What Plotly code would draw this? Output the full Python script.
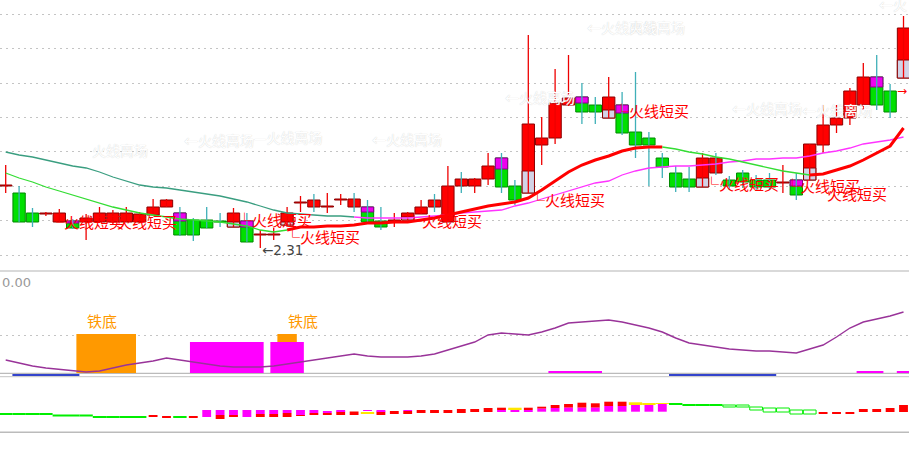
import plotly.graph_objects as go

W, H = 909, 449

# ---------------- price panel data ----------------
opens = [2.496, 2.475, 2.415, 2.412, 2.388, 2.391, 2.388, 2.388, 2.388, 2.388,
         2.388, 2.409, 2.433, 2.415, 2.394, 2.394, 2.391, 2.373, 2.391, 2.349,
         2.349, 2.379, 2.445, 2.433, 2.433, 2.454, 2.433, 2.433, 2.391, 2.391,
         2.394, 2.412, 2.433, 2.388, 2.496, 2.496, 2.517, 2.580, 2.496, 2.475,
         2.619, 2.640, 2.739, 2.763, 2.739, 2.700, 2.739, 2.658, 2.640, 2.580,
         2.535, 2.517, 2.493, 2.535, 2.514, 2.535, 2.514, 2.514, 2.505, 2.514,
         2.514, 2.619, 2.679, 2.700, 2.739, 2.823, 2.781, 2.820]
highs = [2.559, 2.496, 2.430, 2.418, 2.427, 2.397, 2.412, 2.433, 2.424, 2.433,
         2.418, 2.457, 2.457, 2.433, 2.400, 2.433, 2.415, 2.430, 2.415, 2.364,
         2.370, 2.433, 2.466, 2.472, 2.475, 2.472, 2.475, 2.454, 2.433, 2.415,
         2.418, 2.454, 2.472, 2.556, 2.538, 2.520, 2.595, 2.595, 2.514, 2.949,
         2.703, 2.847, 2.889, 2.805, 2.763, 2.823, 2.778, 2.838, 2.658, 2.595,
         2.556, 2.553, 2.595, 2.595, 2.526, 2.544, 2.529, 2.535, 2.559, 2.535,
         2.622, 2.739, 2.739, 2.790, 2.865, 2.889, 2.802, 3.006]
lows = [2.475, 2.388, 2.373, 2.406, 2.388, 2.367, 2.334, 2.388, 2.382, 2.388,
        2.385, 2.409, 2.433, 2.346, 2.331, 2.370, 2.373, 2.373, 2.328, 2.310,
        2.334, 2.373, 2.418, 2.418, 2.415, 2.439, 2.418, 2.388, 2.364, 2.373,
        2.394, 2.412, 2.418, 2.388, 2.475, 2.475, 2.499, 2.475, 2.439, 2.475,
        2.559, 2.622, 2.736, 2.682, 2.682, 2.700, 2.649, 2.580, 2.496, 2.520,
        2.478, 2.478, 2.493, 2.529, 2.484, 2.490, 2.484, 2.484, 2.475, 2.454,
        2.514, 2.595, 2.655, 2.679, 2.724, 2.724, 2.700, 2.820]
closes = [2.499, 2.388, 2.388, 2.415, 2.415, 2.370, 2.400, 2.415, 2.415, 2.415,
          2.412, 2.433, 2.454, 2.349, 2.349, 2.370, 2.388, 2.415, 2.328, 2.352,
          2.352, 2.415, 2.448, 2.454, 2.436, 2.457, 2.457, 2.388, 2.373, 2.394,
          2.415, 2.433, 2.454, 2.496, 2.517, 2.517, 2.556, 2.493, 2.454, 2.682,
          2.640, 2.745, 2.760, 2.718, 2.718, 2.763, 2.655, 2.619, 2.619, 2.553,
          2.493, 2.493, 2.580, 2.580, 2.496, 2.508, 2.493, 2.493, 2.508, 2.469,
          2.622, 2.679, 2.700, 2.781, 2.823, 2.739, 2.718, 2.970]

# lower light part of some red bodies
grey_idx = [17, 21, 30, 39, 45, 52, 60, 67]
grey_hi = [2.388, 2.388, 2.403, 2.541, 2.724, 2.520, 2.550, 2.874]
grey_lo = [2.373, 2.379, 2.394, 2.475, 2.700, 2.493, 2.514, 2.820]
# magenta caps on some green bodies
cap_idx = [5, 13, 18, 27, 37, 43, 46, 59, 65]
cap_hi = [2.391, 2.415, 2.391, 2.433, 2.580, 2.763, 2.739, 2.514, 2.823]
cap_lo = [2.385, 2.391, 2.373, 2.418, 2.547, 2.745, 2.715, 2.496, 2.793]
# red candles drawn with teal wicks
teal_wick_up = [23, 26, 32, 34, 53]

ma_long = [2.598, 2.589, 2.583, 2.574, 2.565, 2.556, 2.550, 2.538, 2.523, 2.511,
           2.499, 2.493, 2.490, 2.484, 2.478, 2.472, 2.466, 2.457, 2.448, 2.436,
           2.424, 2.415, 2.412, 2.409, 2.406, 2.406, 2.403, 2.400, 2.400, 2.400,
           2.400, 2.403, 2.406, 2.409, 2.415, 2.418, 2.421, 2.424, 2.436, 2.445,
           2.457, 2.469, 2.481, 2.493, 2.505, 2.511, 2.529, 2.541, 2.550, 2.553,
           2.556, 2.556, 2.559, 2.562, 2.568, 2.571, 2.577, 2.577, 2.580, 2.580,
           2.586, 2.595, 2.601, 2.610, 2.622, 2.628, 2.634, 2.643]
ma_mid = [2.535, 2.520, 2.508, 2.493, 2.481, 2.469, 2.457, 2.445, 2.433, 2.424,
          2.415, 2.409, 2.403, 2.397, 2.394, 2.391, 2.388, 2.382, 2.376, 2.364,
          2.358, 2.364, 2.373, 2.373, 2.376, 2.376, 2.379, 2.385, 2.385, 2.388,
          2.388, 2.394, 2.400, 2.409, 2.418, 2.427, 2.436, 2.442, 2.448, 2.460,
          2.484, 2.511, 2.538, 2.559, 2.574, 2.586, 2.601, 2.610, 2.613, 2.613,
          2.607, 2.598, 2.592, 2.583, 2.577, 2.568, 2.559, 2.550, 2.541, 2.535,
          2.529, 2.532, 2.544, 2.556, 2.574, 2.595, 2.616, 2.670]

# text signals on the price panel: (x index, price)
buy_x = [3.08, 7.04, 17.1, 20.7, 29.8, 38.98, 45.25, 51.96, 58.0]
buy_y = [2.391, 2.391, 2.397, 2.346, 2.394, 2.457, 2.724, 2.505, 2.499]
buy2_x = [61.14]
buy2_y = [2.475]
exit_x = [6.29, 13.16, 18.4, 27.19, 37.11, 43.25, 46.4, 54.05, 59.28]
exit_y = [2.604, 2.634, 2.643, 2.637, 2.763, 2.973, 2.973, 2.730, 2.724]
exit_txt = ["火线离场", "←火线离场", "—火线离场", "←火线离场", "←火线离场",
            "←火线离场", "火线离场", "←火线离场", "←火线离场"]
edge_txt = "←火"
edge_y = 3.042
low_label = "←2.31"
low_x, low_y = 18.98, 2.304
last_arrow_y = 2.781

# ---------------- middle panel data ----------------
osc = [13, 10, 7, 5, 3.5, 2.5, 1, 2, 5, 8, 10, 12, 15, 13, 11, 9, 7, 6, 6, 6,
       7, 9, 11, 13, 15, 17, 19, 17, 16, 16, 16, 17, 19, 23, 27, 31, 38, 40, 39, 38,
       41, 45, 50, 51, 52.5, 53, 51, 48, 45, 41, 35, 30, 28, 26, 24, 23, 22, 22, 21, 20,
       24, 28, 36, 45, 51, 54, 57, 61]
mag_start = [14, 20]
mag_end = [19, 22]
mag_val = [31, 31]
tie_start = [6, 21]
tie_end = [9, 21]
tie_lo = [0, 31]
tie_hi = [39, 39]
blue_start = [1, 50]
blue_end = [5, 57]
pink_start = [41, 64, 67]
pink_end = [44, 65, 67]

# ---------------- bottom panel data ----------------
gs_idx = [0, 1, 2, 3, 4, 5, 6, 7, 8, 9, 10, 13, 50, 51, 52, 53]
gs_lo = [17, 17, 17, 17, 15.5, 15.5, 15.5, 14, 14, 14, 14, 14, 27, 26, 26, 26]
gs_hi = [19, 19, 19, 19, 17.5, 17.5, 17.5, 16, 16, 16, 16, 15.5, 28.5, 27.5, 27.5, 27.5]
r_idx = [11, 12, 14, 16, 17, 19, 20, 21, 22, 23, 24, 25, 26, 28, 29, 30, 31, 32, 33, 34,
         35, 36, 37, 39, 40, 41, 42, 43, 44, 45, 46, 61, 62, 63, 64, 65, 66, 67]
r_lo = [15, 14, 14, 13, 15, 15, 15, 15, 16, 17, 17, 17, 17, 17, 18, 18, 19, 19, 19, 19,
        20, 20, 22, 22, 23.3, 24, 24.3, 24.3, 24.3, 26, 26, 18, 18.5, 18.5, 20, 20, 20, 20]
r_hi = [17, 15.5, 15.5, 17, 17, 18, 18, 19, 17, 19, 19, 20.5, 20.5, 20.5, 21, 21, 22, 22, 22, 23,
        23, 24, 24.3, 24.3, 25.3, 27, 28, 29.3, 28.7, 30.3, 30.3, 20, 19.5, 19.5, 23, 23, 24, 27]
m_idx = [15, 16, 17, 18, 19, 20, 21, 22, 23, 24, 25, 27, 28, 30,
         37, 38, 39, 40, 41, 42, 43, 44, 45, 46, 47, 48, 49]
m_lo = [15, 17, 17, 15, 18, 18, 19, 17, 19, 19, 20.5, 21, 20.5, 21,
        20.3, 20.3, 20.3, 20.3, 20.3, 20.3, 20.3, 20.3, 20.3, 20.3, 20.3, 20.3, 20.3]
m_hi = [22, 22, 22, 22, 22, 22, 22, 22, 22, 21, 21.5, 22, 21.5, 22,
        22, 22, 22, 23.3, 24, 24.3, 24.3, 24.3, 26, 26, 27, 27, 28]
yl_idx = [27, 38, 47, 48, 49]
yl_lo = [18, 22, 27, 27, 28]
yl_hi = [20, 24.3, 29.7, 28.7, 29]
h_idx = [54, 55, 56, 57, 58, 59, 60]
h_lo = [25, 25, 22, 20, 20, 18, 18]
h_hi = [27, 27, 25, 24, 24, 22, 22]

# ---------------- build figure ----------------
N = len(opens)
idx = list(range(N))
X_RANGE = [-0.425, 67.41]
CJK = "Noto Sans CJK SC"


def dom(top_px, bot_px):
    return [1 - bot_px / H, 1 - top_px / H]


fig = go.Figure()

up = [closes[i] >= opens[i] for i in idx]
red_w = [i for i in idx if up[i] and i not in teal_wick_up]
teal_w = [i for i in idx if (not up[i]) or i in teal_wick_up]


def wick(sel, color):
    xs, ys = [], []
    for i in sel:
        xs += [i, i, None]
        ys += [lows[i], highs[i], None]
    return go.Scatter(x=xs, y=ys, mode="lines", line=dict(color=color, width=1.3),
                      hoverinfo="skip", showlegend=False, xaxis="x", yaxis="y")


fig.add_trace(wick(red_w, "#EE0000"))
fig.add_trace(wick(teal_w, "#3FB0B8"))


def body(sel, fill, edge):
    return go.Bar(x=sel, base=[min(opens[i], closes[i]) for i in sel],
                  y=[max(abs(closes[i] - opens[i]), 0.002) for i in sel],
                  width=0.92, marker=dict(color=fill, line=dict(color=edge, width=1)),
                  hoverinfo="skip", showlegend=False, xaxis="x", yaxis="y")


fig.add_trace(body([i for i in idx if up[i]], "#FF0000", "#8B0000"))
fig.add_trace(body([i for i in idx if not up[i]], "#00E000", "#008800"))
fig.add_trace(go.Bar(x=grey_idx, base=grey_lo, y=[h - l for h, l in zip(grey_hi, grey_lo)],
                     width=0.92, marker=dict(color="#D2D2E6", line=dict(color="#8B0000", width=1)),
                     hoverinfo="skip", showlegend=False, xaxis="x", yaxis="y"))
fig.add_trace(go.Bar(x=cap_idx, base=cap_lo, y=[h - l for h, l in zip(cap_hi, cap_lo)],
                     width=0.92, marker=dict(color="#EE00EE", line=dict(color="#880088", width=1)),
                     hoverinfo="skip", showlegend=False, xaxis="x", yaxis="y"))


def seg(values, a, b, color, width):
    return go.Scatter(x=idx[a:b + 1], y=values[a:b + 1], mode="lines",
                      line=dict(color=color, width=width), hoverinfo="skip",
                      showlegend=False, xaxis="x", yaxis="y")


LONG_SPLIT = 26
fig.add_trace(seg(ma_long, 0, LONG_SPLIT, "#3A9E80", 1.3))
fig.add_trace(seg(ma_long, LONG_SPLIT, N - 1, "#FF33FF", 1.3))
fig.add_trace(seg(ma_mid, 0, 21, "#33DD33", 1.3))
fig.add_trace(seg(ma_mid, 21, 49, "#FF0000", 3))
fig.add_trace(seg(ma_mid, 49, 60, "#33DD33", 1.3))
fig.add_trace(seg(ma_mid, 60, N - 1, "#FF0000", 3))

# middle panel
fig.add_trace(go.Scatter(x=idx, y=osc, mode="lines", line=dict(color="#993399", width=1.4),
                         hoverinfo="skip", showlegend=False, xaxis="x2", yaxis="y2"))


def group_bar(starts, ends, lo, hi, color, extra, yaxis):
    return go.Bar(x=[(s + e) / 2 for s, e in zip(starts, ends)], base=lo,
                  y=[h - l for h, l in zip(hi, lo)],
                  width=[e - s + 1 + extra for s, e in zip(starts, ends)],
                  marker=dict(color=color, line=dict(width=0)), hoverinfo="skip",
                  showlegend=False, xaxis="x2", yaxis=yaxis)


fig.add_trace(group_bar(mag_start, mag_end, [0] * len(mag_val), mag_val, "#FF00FF", -0.5, "y2"))
fig.add_trace(group_bar(tie_start, tie_end, tie_lo, tie_hi, "#FF9900", 0.45, "y2"))
fig.add_trace(group_bar(blue_start, blue_end, [-3] * 2, [-1] * 2, "#3344CC", 0, "y2"))
fig.add_trace(group_bar(pink_start, pink_end, [0.2] * 3, [1.8] * 3, "#FF00FF", 0, "y2"))

# bottom panel


def lohi(ix, lo, hi, fill, edge, width):
    return go.Bar(x=ix, base=lo, y=[h - l for h, l in zip(hi, lo)], width=width,
                  marker=dict(color=fill, line=dict(color=edge, width=1 if edge else 0)),
                  hoverinfo="skip", showlegend=False, xaxis="x3", yaxis="y3")


fig.add_trace(lohi(gs_idx, gs_lo, gs_hi, "#00EE00", None, 1.0))
fig.add_trace(lohi(r_idx, r_lo, r_hi, "#FF0000", None, 0.66))
fig.add_trace(lohi(m_idx, m_lo, m_hi, "#FF00FF", None, 0.66))
fig.add_trace(lohi(yl_idx, yl_lo, yl_hi, "#FFE600", None, 1.0))
fig.add_trace(lohi(h_idx, h_lo, h_hi, "rgba(0,0,0,0)", "#00EE00", 0.95))

# annotations
ann = []
red_font = dict(family=CJK, size=15, color="#FF0000")
for x, y in zip(buy_x, buy_y):
    ann.append(dict(x=x, y=y, xref="x", yref="y", text="└火线短买", showarrow=False,
                    xanchor="left", yanchor="middle", font=red_font))
for x, y in zip(buy2_x, buy2_y):
    ann.append(dict(x=x, y=y, xref="x", yref="y", text="火线短买", showarrow=False,
                    xanchor="left", yanchor="middle", font=red_font))
white_font = dict(family=CJK, size=14, color="#FFFFFF", shadow="0px 0px 1px #C8C8C8")
for x, y, t in zip(exit_x, exit_y, exit_txt):
    ann.append(dict(x=x, y=y, xref="x", yref="y", text=t, showarrow=False,
                    xanchor="left", yanchor="middle", font=white_font))
ann.append(dict(x=X_RANGE[1], y=edge_y, xref="x", yref="y", text=edge_txt, showarrow=False,
                xanchor="right", yanchor="middle", font=white_font))
ann.append(dict(x=low_x, y=low_y, xref="x", yref="y", text=low_label, showarrow=False,
                xanchor="left", yanchor="middle",
                font=dict(family="DejaVu Sans", size=13.5, color="#444444")))
ann.append(dict(x=X_RANGE[1], y=last_arrow_y, xref="x", yref="y", text="→",
                showarrow=False, xanchor="right", yanchor="middle",
                font=dict(family="DejaVu Sans", size=12, color="#FF0000")))
for s, hi in zip(tie_start, tie_hi):
    ann.append(dict(x=s - 0.1, y=hi + 1, xref="x2", yref="y2", text="铁底", showarrow=False,
                    xanchor="left", yanchor="bottom",
                    font=dict(family=CJK, size=15, color="#FF9900")))
ann.append(dict(x=0, y=1 - 282 / H, xref="paper", yref="paper", text="0.00", showarrow=False,
                xanchor="left", yanchor="middle",
                font=dict(family="DejaVu Sans", size=13, color="#999999")))

shapes = []
for py, col, wd in [(271, "#CCCCCC", 1.5), (373.3, "#AAAAAA", 1), (376.7, "#C4C4C4", 1),
                    (432.3, "#BBBBBB", 1.5)]:
    shapes.append(dict(type="line", xref="paper", yref="paper", x0=0, x1=1,
                       y0=1 - py / H, y1=1 - py / H, layer="below",
                       line=dict(color=col, width=wd)))

xcommon = dict(range=X_RANGE, visible=False, showgrid=False, zeroline=False, domain=[0, 1])
fig.update_layout(
    width=W, height=H, margin=dict(l=0, r=0, t=0, b=0),
    plot_bgcolor="#FFFFFF", paper_bgcolor="#FFFFFF",
    barmode="overlay", showlegend=False,
    xaxis=dict(anchor="y", **xcommon),
    xaxis2=dict(anchor="y2", **xcommon),
    xaxis3=dict(anchor="y3", **xcommon),
    yaxis=dict(domain=dom(0, 271), range=[2.241, 3.054], showticklabels=False, ticks="",
               showgrid=True, gridcolor="#C4C4C4", griddash="2px,4px", gridwidth=1,
               tick0=3.0111, dtick=0.1032, zeroline=False, showline=False),
    yaxis2=dict(domain=dom(271, 377), range=[-4, 102], showticklabels=False, ticks="",
                showgrid=True, gridcolor="#C4C4C4", griddash="2px,4px", tick0=38, dtick=1000,
                zeroline=False, showline=False),
    yaxis3=dict(domain=dom(377, 432), range=[0, 55], showticklabels=False, ticks="",
                showgrid=False, zeroline=False, showline=False),
    annotations=ann, shapes=shapes,
)

fig.write_html("out.html", config={"displayModeBar": False},
               post_script="document.body.style.margin='0px';document.body.style.overflow='hidden';")
